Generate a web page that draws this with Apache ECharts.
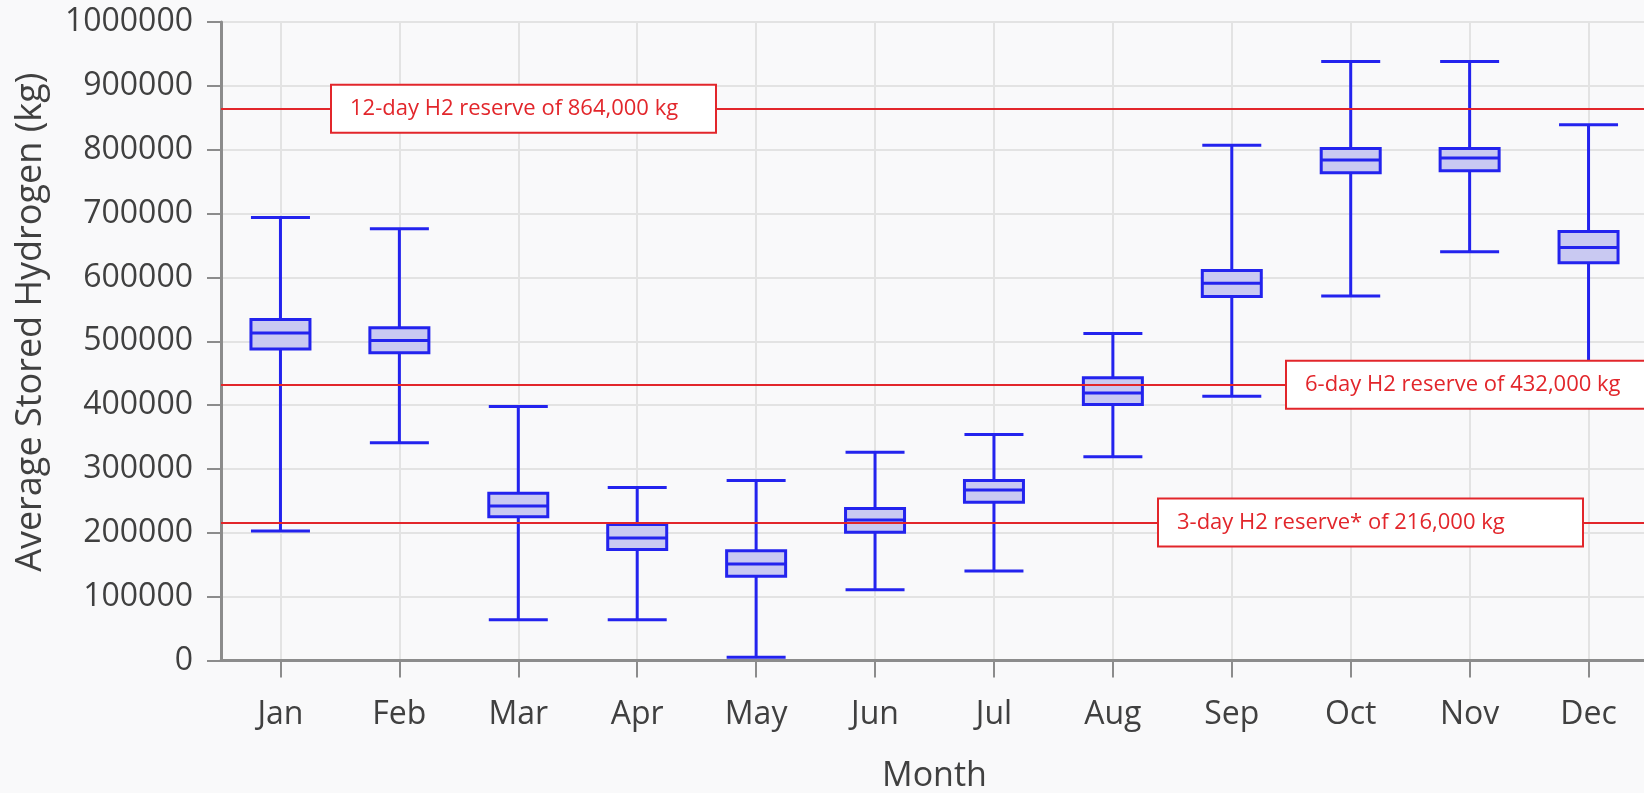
<!DOCTYPE html>
<html>
<head>
<meta charset="utf-8">
<title>Average Stored Hydrogen by Month</title>
<script src="https://cdn.jsdelivr.net/npm/echarts@6/dist/echarts.min.js"></script>
<style>
  html, body { margin: 0; padding: 0; background: #f9f9fa; }
  #chart { width: 1644px; height: 793px; }
</style>
</head>
<body>
<div id="chart"></div>
<script>
// Monthly distribution of average stored hydrogen (kg)
const months = ['Jan', 'Feb', 'Mar', 'Apr', 'May', 'Jun', 'Jul', 'Aug', 'Sep', 'Oct', 'Nov', 'Dec'];
const lowWhisker  = [203000, 341000,  64000,  64000,   5000, 111000, 140000, 319000, 414000, 571000, 640000, 445000];
const lowerQuart  = [488000, 482000, 225000, 174000, 132000, 201000, 248000, 401000, 570000, 764000, 767000, 623000];
const medians     = [513000, 501000, 242000, 192000, 151000, 220000, 267000, 419000, 591000, 784000, 787000, 647000];
const upperQuart  = [534000, 521000, 262000, 213000, 172000, 238000, 282000, 443000, 611000, 802000, 802000, 672000];
const highWhisker = [694000, 676000, 398000, 271000, 282000, 326000, 354000, 512000, 807000, 938000, 938000, 839000];

// Reserve thresholds drawn as horizontal reference lines
const reserveValues = [864000, 432000, 216000];
const reserveLabels = [
  '12-day H2 reserve of 864,000 kg',
  '6-day H2 reserve of 432,000 kg',
  '3-day H2 reserve* of 216,000 kg'
];
const yTicks = { min: 0, max: 1000000, step: 100000 };

const boxData = months.map((m, i) => [lowWhisker[i], lowerQuart[i], medians[i], upperQuart[i], highWhisker[i]]);

// label placement along each reserve line: [distance from line start, text box width]
const labelLayout = [[111, 357], [1066, 350], [938, 397]];

const RED = '#e2262b';
const FONT = '"Open Sans", "Noto Sans", sans-serif';

const chart = echarts.init(document.getElementById('chart'), null, { renderer: 'canvas' });
chart.setOption({
  backgroundColor: '#f9f9fa',
  animation: false,
  grid: { left: 221, right: -4, top: 22, bottom: 132.5, containLabel: false, outerBoundsMode: 'none' },
  xAxis: {
    type: 'category',
    data: months,
    boundaryGap: true,
    name: 'Month',
    nameLocation: 'middle',
    nameGap: 99,
    nameTextStyle: { fontFamily: FONT, fontSize: 34, color: '#404040' },
    axisLine: { show: true, lineStyle: { color: '#8c8c8c', width: 3 } },
    axisTick: { show: true, alignWithLabel: true, length: 17, lineStyle: { color: '#8c8c8c', width: 2 } },
    axisLabel: { fontFamily: FONT, fontSize: 32, color: '#404040', margin: 38 },
    splitLine: { show: true, alignWithLabel: true, lineStyle: { color: '#e3e3e3', width: 2 } }
  },
  yAxis: {
    type: 'value',
    min: yTicks.min,
    max: yTicks.max,
    interval: yTicks.step,
    name: 'Average Stored Hydrogen (kg)',
    nameLocation: 'middle',
    nameGap: 172,
    nameTextStyle: { fontFamily: FONT, fontSize: 36, color: '#404040', padding: [0, 0, 0, 38] },
    axisLine: { show: true, lineStyle: { color: '#8c8c8c', width: 3 } },
    axisTick: { show: true, length: 14, lineStyle: { color: '#8c8c8c', width: 2 } },
    axisLabel: { fontFamily: FONT, fontSize: 32, color: '#404040', margin: 28, formatter: v => String(v) },
    splitLine: { show: true, lineStyle: { color: '#e3e3e3', width: 2 } }
  },
  series: [
    {
      name: 'Stored hydrogen',
      type: 'boxplot',
      data: boxData,
      boxWidth: [59, 59],
      z: 3,
      itemStyle: { color: '#c9c9f2', borderColor: '#2323ee', borderWidth: 3 }
    },
    {
      name: 'Reserves',
      type: 'line',
      data: [],
      z: 10,
      markLine: {
        silent: true,
        symbol: ['none', 'none'],
        animation: false,
        lineStyle: { color: RED, width: 2, type: 'solid' },
        data: reserveValues.map((v, i) => ({
          yAxis: v,
          label: {
            show: true,
            formatter: reserveLabels[i],
            position: 'insideStartTop',
            distance: [labelLayout[i][0], 0],
            align: 'left',
            verticalAlign: 'middle',
            width: labelLayout[i][1],
            overflow: 'none',
            fontFamily: FONT,
            fontSize: 22,
            color: RED,
            backgroundColor: '#ffffff',
            borderColor: RED,
            borderWidth: 2,
            padding: [12, 8, 12, 18]
          }
        }))
      }
    }
  ]
});
</script>
</body>
</html>
